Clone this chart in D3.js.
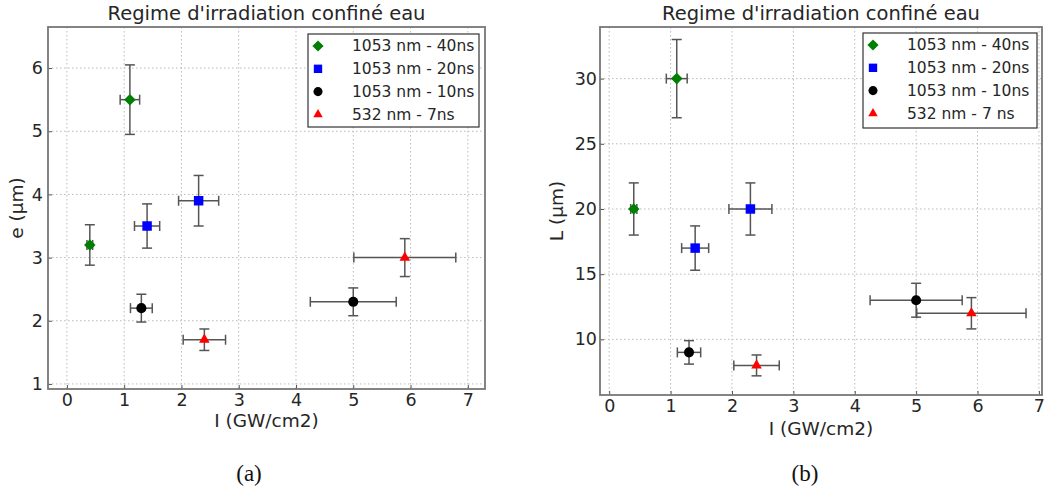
<!DOCTYPE html>
<html><head><meta charset="utf-8">
<script src="https://cdn.jsdelivr.net/npm/d3@7"></script>
<style>body{margin:0;background:#fff}svg{display:block}</style>
</head><body>
<svg id="c" width="1048" height="491"></svg>
<script>
const seriesNames = ["1053 nm - 40ns","1053 nm - 20ns","1053 nm - 10ns","532 nm - 7ns"];
const seriesNamesB = ["1053 nm - 40ns","1053 nm - 20ns","1053 nm - 10ns","532 nm - 7 ns"];
const seriesColors = ["#008000","#0000ff","#000000","#ff0000"];
const seriesShapes = ["diamond","square","circle","triangle"];
// intensity I (GW/cm2) and its error, per series (two points each)
const I_vals = [[0.4,1.1],[1.4,2.3],[1.3,5.0],[2.4,5.9]];
const I_err  = [[0.05,0.17],[0.22,0.35],[0.19,0.75],[0.37,0.89]];
// panel (a): e (µm)
const e_vals = [[3.2,5.5],[3.5,3.9],[2.2,2.3],[1.7,3.0]];
const e_err  = [[0.32,0.55],[0.35,0.4],[0.22,0.22],[0.17,0.3]];
// panel (b): L (µm)
const L_vals = [[20,30],[17,20],[9,13],[8,12]];
const L_err  = [[2,3],[1.7,2],[0.9,1.3],[0.8,1.2]];
const xTicks = [0,1,2,3,4,5,6,7];
const yTicksA = [1,2,3,4,5,6];
const yTicksB = [10,15,20,25,30];
const title = "Regime d'irradiation confiné eau";

const svg = d3.select("#c");
const font = "DejaVu Sans, sans-serif";
const txt = "#262626";

function sym(shape){
  const m = {diamond:[d3.symbolDiamond2, 85], square:[d3.symbolSquare, 90], circle:[d3.symbolCircle, 80], triangle:[d3.symbolTriangle2, 80]};
  return d3.symbol().type(m[shape][0]).size(m[shape][1])();
}

function panel(opt){
  const g = svg.append("g");
  const x = d3.scaleLinear().domain(opt.xdom).range([opt.left, opt.right]);
  const y = d3.scaleLinear().domain(opt.ydom).range([opt.bottom, opt.top]);
  // grid
  g.append("g").selectAll("line").data(xTicks).join("line")
    .attr("x1", d=>x(d)).attr("x2", d=>x(d)).attr("y1", opt.top).attr("y2", opt.bottom)
    .attr("stroke", "#bbb").attr("stroke-width", 1).attr("stroke-dasharray", "1.5,2.5");
  g.append("g").selectAll("line").data(opt.yTicks).join("line")
    .attr("y1", d=>y(d)).attr("y2", d=>y(d)).attr("x1", opt.left).attr("x2", opt.right)
    .attr("stroke", "#bbb").attr("stroke-width", 1).attr("stroke-dasharray", "1.5,2.5");
  // axes (ticks inside, classic)
  const ax = g.append("g").attr("transform", `translate(0,${opt.bottom})`)
    .call(d3.axisBottom(x).tickValues(xTicks).tickSize(-4).tickPadding(opt.xpad).tickFormat(d3.format("d")));
  const ay = g.append("g").attr("transform", `translate(${opt.left},0)`)
    .call(d3.axisLeft(y).tickValues(opt.yTicks).tickSize(-4).tickPadding(opt.ypad).tickFormat(d3.format("d")));
  [ax, ay].forEach(a=>{
    a.select(".domain").remove();
    a.selectAll(".tick line").attr("stroke", "#555");
    a.selectAll("text").attr("font-family", font).attr("font-size", 17.5).attr("fill", txt);
  });
  ax.selectAll("text").attr("dy", "0.71em");
  // frame
  g.append("rect").attr("x", opt.left).attr("y", opt.top)
    .attr("width", opt.right-opt.left).attr("height", opt.bottom-opt.top)
    .attr("fill", "none").attr("stroke", "#777").attr("stroke-width", 1.8);
  // error bars & markers
  const cap = 5;
  seriesNames.forEach((s, i)=>{
    I_vals[i].forEach((xv, j)=>{
      const yv = opt.vals[i][j], ye = opt.err[i][j], xe = I_err[i][j];
      const eg = g.append("g").attr("stroke", "#555").attr("stroke-width", 1.5).attr("fill","none");
      eg.append("line").attr("x1", x(xv-xe)).attr("x2", x(xv+xe)).attr("y1", y(yv)).attr("y2", y(yv));
      eg.append("line").attr("x1", x(xv-xe)).attr("x2", x(xv-xe)).attr("y1", y(yv)-cap).attr("y2", y(yv)+cap);
      eg.append("line").attr("x1", x(xv+xe)).attr("x2", x(xv+xe)).attr("y1", y(yv)-cap).attr("y2", y(yv)+cap);
      eg.append("line").attr("x1", x(xv)).attr("x2", x(xv)).attr("y1", y(yv-ye)).attr("y2", y(yv+ye));
      eg.append("line").attr("x1", x(xv)-cap).attr("x2", x(xv)+cap).attr("y1", y(yv-ye)).attr("y2", y(yv-ye));
      eg.append("line").attr("x1", x(xv)-cap).attr("x2", x(xv)+cap).attr("y1", y(yv+ye)).attr("y2", y(yv+ye));
      g.append("path").attr("d", sym(seriesShapes[i]))
        .attr("transform", `translate(${x(xv)},${y(yv)})`).attr("fill", seriesColors[i]);
    });
  });
  // title
  g.append("text").attr("x", (opt.left+opt.right)/2).attr("y", 20).attr("text-anchor","middle")
    .attr("font-family", font).attr("font-size", 19.5).attr("fill", txt).text(title);
  // x label
  g.append("text").attr("x", (opt.left+opt.right)/2).attr("y", opt.xlabY).attr("text-anchor","middle")
    .attr("font-family", font).attr("font-size", 18.5).attr("fill", txt).text("I (GW/cm2)");
  // y label
  g.append("text").attr("transform", `translate(${opt.ylabX},${(opt.top+opt.bottom)/2}) rotate(-90)`)
    .attr("text-anchor","middle").attr("dy","0.35em").attr("font-family", font).attr("font-size", 18.5).attr("fill", txt).text(opt.ylab);
  // legend
  const lg = g.append("g");
  lg.append("rect").attr("x", opt.leg[0]).attr("y", opt.leg[1]).attr("width", opt.leg[2]).attr("height", opt.leg[3])
    .attr("fill", "#fff").attr("stroke", "#333").attr("stroke-width", 1.2);
  opt.names.forEach((n, i)=>{
    const ry = opt.leg[1] + 12 + i*22.8;
    lg.append("path").attr("d", d3.symbol().type([d3.symbolDiamond2,d3.symbolSquare,d3.symbolCircle,d3.symbolTriangle2][i]).size([80,70,65,65][i])())
      .attr("transform", `translate(${opt.leg[0]+10},${ry})`).attr("fill", seriesColors[i]);
    lg.append("text").attr("x", opt.leg[0]+44).attr("y", ry).attr("dy","0.35em")
      .attr("font-family", font).attr("font-size", 15.5).attr("fill", txt).text(n);
  });
  // subfigure label
  svg.append("text").attr("x", opt.subX).attr("y", 481).attr("text-anchor","middle")
    .attr("font-family", "Liberation Serif, DejaVu Serif, serif").attr("font-size", 23).attr("fill", "#111").text(opt.sub);
}

panel({left:48, right:485, top:27, bottom:389, xdom:[-0.33,7.3], ydom:[0.92,6.65],
  yTicks:yTicksA, vals:e_vals, err:e_err, ylab:"e (µm)", ylabX:17, leg:[308,34,171,93],
  names:seriesNames, sub:"(a)", subX:249, xpad:5, ypad:5, xlabY:427});
panel({left:600, right:1042, top:27, bottom:395, xdom:[-0.15,7.05], ydom:[5.73,33.96],
  yTicks:yTicksB, vals:L_vals, err:L_err, ylab:"L (µm)", ylabX:557, leg:[863,33,174,95],
  names:seriesNamesB, sub:"(b)", subX:805, xpad:5, ypad:3, xlabY:435});
</script>
</body></html>
